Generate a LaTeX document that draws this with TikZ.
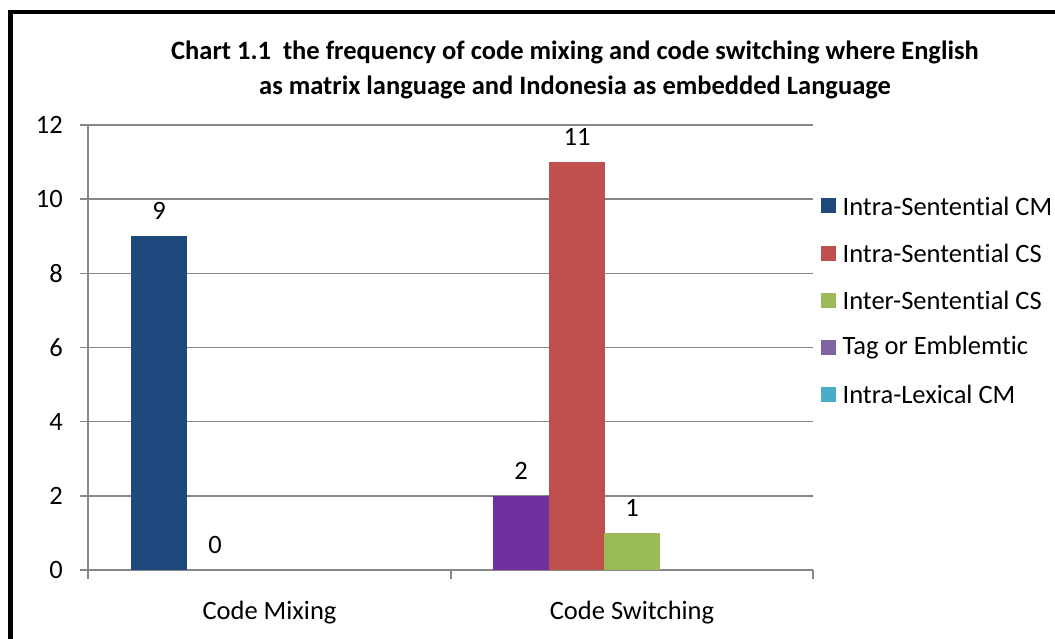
\documentclass[tikz,border=0pt]{standalone}
\usepackage{fontspec}
\setmainfont{Carlito}[Ligatures={NoCommon}]
\usetikzlibrary{positioning}
\definecolor{scm}{HTML}{1F497D}
\definecolor{scs}{HTML}{C0504D}
\definecolor{ics}{HTML}{9BBB59}
\definecolor{tag}{HTML}{7030A0}
\definecolor{tagkey}{HTML}{8064A2}
\definecolor{lex}{HTML}{4BACC6}
\definecolor{gridc}{HTML}{878787}
\tikzset{
  frame/.style={line width=4.5pt, draw=black},
  gridline/.style={draw=gridc, line width=1.6pt},
  lbl/.style={font=\fontsize{26.5}{30}\selectfont, inner sep=0pt},
  ttl/.style={font=\fontsize{26.5}{35}\selectfont\bfseries, align=center, inner sep=0pt},
  key/.style={fill=#1, minimum size=15pt, inner sep=0pt, anchor=west},
}
\begin{document}
\begin{tikzpicture}[x=1pt, y=-1pt]
\useasboundingbox (0,0) rectangle (1055,639);
% frame
\draw[frame] (10.5,700) -- (10.5,12) -- (1100,12);

% title
\node[ttl] (title) at (575,70) {Chart 1.1\ \ the frequency of code mixing and code switching where English\\ as matrix language and Indonesia as embedded Language};

% grid and y labels
\foreach \v in {0,2,...,12} {
  \coordinate (g\v) at (80,570-37.08*\v);
  \coordinate (h\v) at (813,570-37.08*\v);
  \draw[gridline] (g\v) -- (h\v);
  \node[lbl, anchor=east] (y\v) at (63,570-37.08*\v) {\v};
}
\coordinate (axtop) at (88,125);
\coordinate (axbot) at (88,579);
\draw[gridline] (axtop) -- (axbot);
\foreach \x in {451,813} {
  \coordinate (t\x) at (\x,570);
  \draw[gridline] (t\x) -- ++(0,9);
}

% bars
\foreach \x/\v/\c in {131/9/scm, 493/2/tag, 549/11/scs, 604/1/ics} {
  \fill[\c] (\x,570) rectangle (\x+56,570-37.08*\v);
  \node[lbl] (val\x) at (\x+28,545-37.08*\v) {\v};
}
\node[lbl] (val187) at (215,545) {0};

% categories
\node[lbl] (mix) at (269.5,613) {Code Mixing};
\node[lbl] (swi) at (632,613) {Code Switching};

% legend
\node[key=scm] (k1) at (821,206) {};
\node[key=scs, below=31.7pt of k1] (k2) {};
\node[key=ics, below=31.7pt of k2] (k3) {};
\node[key=tagkey, below=31.7pt of k3] (k4) {};
\node[key=lex, below=31.7pt of k4] (k5) {};
\node[lbl, right=6pt of k1] (n1) {Intra-Sentential CM};
\node[lbl, right=6pt of k2] (n2) {Intra-Sentential CS};
\node[lbl, right=6pt of k3] (n3) {Inter-Sentential CS};
\node[lbl, right=6pt of k4] (n4) {Tag or Emblemtic};
\node[lbl, right=6pt of k5] (n5) {Intra-Lexical CM};
\end{tikzpicture}
\end{document}
